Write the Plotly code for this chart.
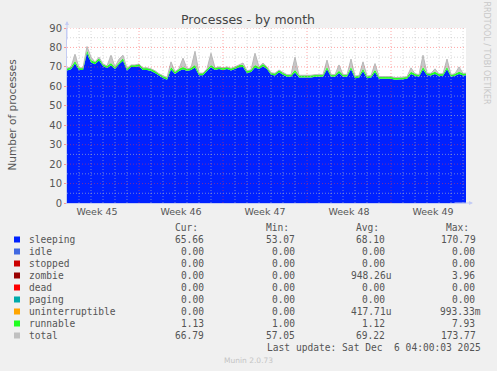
import plotly.graph_objects as go
import pandas as pd

# ---------------- data ----------------
start_time = "2025-11-03 00:00"
step_hours = 8
sleeping = [68.2, 68.8, 71.7, 68.4, 68.4, 77.1, 72.3, 71.4, 73.3, 70.4,
            69.4, 70.7, 68.9, 71.4, 73.2, 68.2, 69.9, 69.9, 70.3, 68.4,
            68.4, 67.9, 66.9, 65.4, 64.3, 63.4, 68.7, 66.4, 67.9, 68.8,
            67.9, 68.4, 69.7, 65.7, 65.7, 67.9, 69.8, 68.4, 68.9, 68.4,
            68.9, 68.2, 68.9, 69.8, 69.9, 66.9, 67.4, 69.7, 68.9, 70.3,
            68.9, 65.9, 65.6, 67.3, 65.9, 64.9, 64.9, 67.3, 64.6, 64.6,
            64.4, 64.6, 64.9, 64.9, 64.9, 68.8, 64.9, 64.9, 66.9, 64.9,
            64.9, 68.8, 64.2, 64.4, 67.8, 64.2, 64.4, 67.3, 63.9, 63.9,
            63.8, 63.9, 63.4, 63.4, 63.6, 63.9, 66.3, 65.4, 64.9, 68.7,
            65.7, 65.6, 66.3, 65.3, 65.4, 68.8, 64.9, 65.4, 66.3, 65.6,
            65.7]
runnable = [1.1, 1.2, 1.3, 1.1, 1.1, 1.4, 1.2, 1.1, 1.2, 1.1,
            1.1, 1.3, 1.1, 1.1, 1.3, 1.1, 1.1, 1.1, 1.2, 1.1,
            1.1, 1.1, 1.1, 1.1, 1.2, 1.1, 1.3, 1.1, 1.1, 1.2,
            1.1, 1.1, 1.3, 1.1, 1.1, 1.1, 1.2, 1.1, 1.1, 1.1,
            1.1, 1.1, 1.1, 1.2, 1.1, 1.1, 1.1, 1.3, 1.1, 1.2,
            1.1, 1.1, 1.1, 1.1, 1.1, 1.1, 1.1, 1.2, 1.1, 1.1,
            1.1, 1.1, 1.1, 1.1, 1.1, 1.2, 1.1, 1.1, 1.1, 1.1,
            1.1, 1.2, 1.1, 1.1, 1.2, 1.1, 1.1, 1.2, 1.1, 1.1,
            1.1, 1.1, 1.1, 1.1, 1.1, 1.1, 1.2, 1.1, 1.1, 1.3,
            1.1, 1.1, 1.2, 1.1, 1.1, 1.2, 1.1, 1.1, 1.2, 1.1,
            1.1]
total = [69.3, 70.0, 76.5, 69.5, 69.5, 80.5, 75.0, 72.5, 75.0, 71.5,
         70.5, 76.0, 70.0, 74.0, 76.0, 69.3, 71.0, 71.0, 71.5, 69.5,
         69.5, 69.0, 68.0, 66.5, 65.5, 64.5, 72.6, 67.5, 69.0, 74.5,
         69.0, 69.5, 78.0, 66.8, 66.8, 69.0, 77.0, 69.5, 70.0, 69.5,
         70.0, 69.3, 70.0, 71.0, 72.0, 68.0, 68.5, 77.0, 70.0, 72.0,
         70.0, 67.0, 66.7, 68.4, 67.0, 66.0, 66.0, 75.0, 65.7, 65.7,
         65.5, 65.7, 66.0, 66.0, 66.0, 73.5, 66.0, 66.0, 71.0, 66.0,
         66.0, 74.0, 65.3, 65.5, 72.6, 65.3, 65.5, 71.7, 65.0, 65.0,
         64.9, 65.0, 64.5, 64.5, 64.7, 65.0, 69.5, 66.5, 66.0, 76.0,
         66.8, 66.7, 69.0, 66.4, 66.5, 74.0, 66.0, 66.5, 70.0, 66.7,
         66.8]

series_names = ["sleeping", "idle", "stopped", "zombie", "dead", "paging",
                "uninterruptible", "runnable", "total"]
series_colors = ["#0022ff", "#4169e1", "#cc0000", "#990000", "#ff0000",
                 "#00aaaa", "#ffa500", "#22ff22", "#c0c0c0"]
cur_vals = ["65.66 ", "0.00 ", "0.00 ", "0.00 ", "0.00 ", "0.00 ", "0.00 ", "1.13 ", "66.79 "]
min_vals = ["53.07 ", "0.00 ", "0.00 ", "0.00 ", "0.00 ", "0.00 ", "0.00 ", "1.00 ", "57.05 "]
avg_vals = ["68.10 ", "0.00 ", "0.00 ", "948.26u", "0.00 ", "0.00 ", "417.71u", "1.12 ", "69.22 "]
max_vals = ["170.79 ", "0.00 ", "0.00 ", "3.96 ", "0.00 ", "0.00 ", "993.33m", "7.93 ", "173.77 "]

week_labels = ["Week 45", "Week 46", "Week 47", "Week 48", "Week 49"]
week_label_dates = ["2025-11-05 12:00", "2025-11-12 12:00", "2025-11-19 12:00",
                    "2025-11-26 12:00", "2025-12-03 12:00"]
week_starts = ["2025-11-09", "2025-11-16", "2025-11-23", "2025-11-30"]
x_range = ["2025-11-03 00:00", "2025-12-06 06:00"]
y_major = [10, 20, 30, 40, 50, 60, 70, 80, 90]
y_minor = [5, 15, 25, 35, 45, 55, 65, 75, 85]

times = pd.date_range(start_time, periods=len(sleeping), freq=f"{step_hours}h")
zeros = [0.0] * len(sleeping)
stack_top = [s + r for s, r in zip(sleeping, runnable)]

# ---------------- figure ----------------
fig = go.Figure()
stack_vals = [sleeping, zeros, zeros, zeros, zeros, zeros, zeros, runnable]
for name, vals, col in zip(series_names[:8], stack_vals, series_colors[:8]):
    fig.add_trace(go.Scatter(x=times, y=vals, name=name, stackgroup="one",
                             mode="lines", line=dict(width=0, color=col),
                             fillcolor=col, hoverinfo="skip"))
fig.add_trace(go.Scatter(x=times, y=stack_top, mode="lines", line=dict(width=0),
                         hoverinfo="skip", showlegend=False))
fig.add_trace(go.Scatter(x=times, y=total, name="total", mode="lines", fill="tonexty",
                         fillcolor="rgba(185,185,185,0.8)",
                         line=dict(width=1, color="#b8b8b8"), hoverinfo="skip"))

shapes = []
minor_col = "rgba(190,190,190,0.6)"
major_col = "rgba(255,60,60,0.45)"
days = pd.date_range("2025-11-04", "2025-12-06", freq="D")
for d in days:
    if d.strftime("%Y-%m-%d") in week_starts:
        continue
    shapes.append(dict(type="line", xref="x", yref="paper", x0=d, x1=d, y0=0, y1=1,
                       line=dict(color=minor_col, width=1, dash="1px,2px"), layer="above"))
for d in week_starts:
    shapes.append(dict(type="line", xref="x", yref="paper", x0=d, x1=d, y0=0, y1=1,
                       line=dict(color=major_col, width=1, dash="1px,2px"), layer="above"))
for v in y_minor:
    shapes.append(dict(type="line", xref="paper", yref="y", x0=0, x1=1, y0=v, y1=v,
                       line=dict(color=minor_col, width=1, dash="1px,2px"), layer="above"))
for v in y_major:
    shapes.append(dict(type="line", xref="paper", yref="y", x0=0, x1=1, y0=v, y1=v,
                       line=dict(color=major_col, width=1, dash="1px,2px"), layer="above"))

# plot area in pixels: left 67, right 466, top 28, bottom 203
PL, PR, PT, PB = 67, 466, 28, 203
def px(x):
    return (x - PL) / (PR - PL)
def py(y):
    return (PB - y) / (PB - PT)

mono = "DejaVu Sans Mono"
fs = 9.6
txtc = "#555555"
ann = []
# header
for txt, xr in zip(["Cur:", "Min:", "Avg:", "Max:"], [199.5, 290.5, 380.5, 470.5]):
    ann.append(dict(text=txt, x=px(xr), y=py(227.7), xref="paper", yref="paper",
                    xanchor="right", yanchor="middle", showarrow=False,
                    font=dict(family=mono, size=fs, color=txtc)))
row_y = [239.5 + 12 * i for i in range(9)]
for i, name in enumerate(series_names):
    yy = row_y[i]
    shapes.append(dict(type="rect", xref="paper", yref="paper",
                       x0=px(14), x1=px(20), y0=py(yy + 3), y1=py(yy - 3),
                       fillcolor=series_colors[i], line=dict(width=0)))
    ann.append(dict(text=name, x=px(26.5), y=py(yy), xref="paper", yref="paper",
                    xanchor="left", yanchor="middle", showarrow=False,
                    font=dict(family=mono, size=fs, color=txtc)))
    for vals, xr in zip([cur_vals, min_vals, avg_vals, max_vals], [211.5, 302.5, 392.5, 482.5]):
        ann.append(dict(text=vals[i].replace(" ", "&nbsp;"), x=px(xr), y=py(yy),
                        xref="paper", yref="paper", xanchor="right", yanchor="middle",
                        showarrow=False, font=dict(family=mono, size=fs, color=txtc)))
ann.append(dict(text="Last update: Sat Dec&nbsp;&nbsp;6 04:00:03 2025", x=px(482.5), y=py(347.5),
                xref="paper", yref="paper", xanchor="right", yanchor="middle",
                showarrow=False, font=dict(family=mono, size=fs, color=txtc)))
ann.append(dict(text="Munin 2.0.73", x=px(248), y=py(360), xref="paper", yref="paper",
                xanchor="center", yanchor="middle", showarrow=False,
                font=dict(family="DejaVu Sans", size=7.5, color="#c4c4c4")))
ann.append(dict(text="Processes - by month", x=px(248), y=py(19), xref="paper", yref="paper",
                xanchor="center", yanchor="middle", showarrow=False,
                font=dict(family="DejaVu Sans", size=12.5, color="#444444")))
ann.append(dict(text="Number of processes", x=px(11), y=py(115.5), xref="paper", yref="paper",
                xanchor="center", yanchor="middle", showarrow=False, textangle=-90,
                font=dict(family="DejaVu Sans", size=10.5, color="#555555")))
ann.append(dict(text="RRDTOOL / TOBI OETIKER", x=px(486.5), y=py(53), xref="paper", yref="paper",
                xanchor="center", yanchor="middle", showarrow=False, textangle=90,
                font=dict(family="DejaVu Sans", size=8, color="#c8c8c8")))
# axis arrows
ann.append(dict(text="", x=px(67), y=py(21), xref="paper", yref="paper", ax=0, ay=20,
                showarrow=True, arrowhead=2, arrowsize=0.8, arrowwidth=1, arrowcolor="#c4ccf4"))
ann.append(dict(text="", x=px(473), y=py(203), xref="paper", yref="paper", ax=-20, ay=0,
                showarrow=True, arrowhead=2, arrowsize=0.8, arrowwidth=1, arrowcolor="#c4ccf4"))

fig.update_layout(
    width=497, height=371,
    margin=dict(l=PL, r=497 - PR, t=PT, b=371 - PB),
    paper_bgcolor="#f0f0f0", plot_bgcolor="#ffffff",
    showlegend=False, shapes=shapes, annotations=ann,
    xaxis=dict(type="date", range=x_range, tickvals=week_label_dates, ticktext=week_labels,
               showgrid=False, zeroline=False, showline=True, linecolor="#c4ccf4", linewidth=1,
               ticks="", tickfont=dict(family="DejaVu Sans", size=9.5, color="#555555"),
               fixedrange=True, automargin=False),
    yaxis=dict(range=[0, 90], tickvals=[0] + y_major, showgrid=False, zeroline=False,
               showline=True, linecolor="#c4ccf4", linewidth=1, ticks="outside", ticklen=2,
               tickcolor="rgba(255,60,60,0.5)",
               tickfont=dict(family="DejaVu Sans", size=10, color="#555555"),
               fixedrange=True, automargin=False),
)

fig.write_html("out.html", config={"displayModeBar": False, "staticPlot": True},
               post_script="document.body.style.margin='0';document.body.style.padding='0';"
                           "document.body.style.background='#f0f0f0';"
                           "document.documentElement.style.overflow='hidden';")
